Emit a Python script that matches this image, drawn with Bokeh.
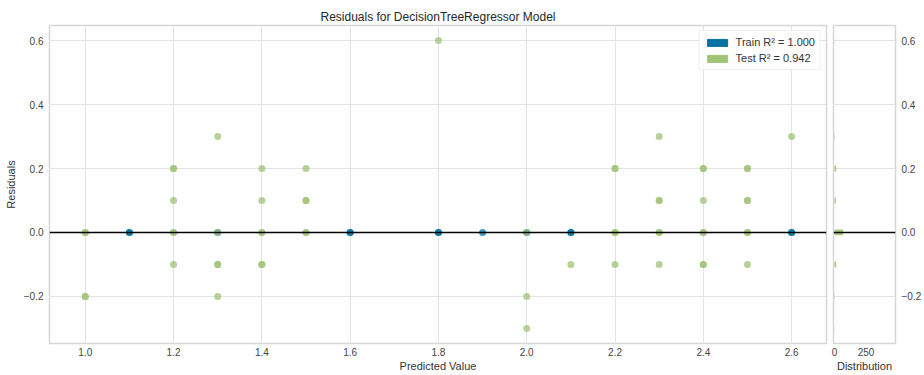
from bokeh.plotting import figure
from bokeh.models import (Range1d, FixedTicker, CustomJSTickFormatter, Span, Legend,
                          LegendItem, ColumnDataSource)
from bokeh.layouts import row
from bokeh.embed import file_html
from bokeh.resources import INLINE

# ---------------- data ----------------
train_pred = [1.1, 1.1, 1.3, 1.6, 1.6, 1.8, 1.8, 1.9, 2.0, 2.1, 2.1, 2.6, 2.6]
train_resid = [0.0] * len(train_pred)

test_pred = [1.0, 1.0, 1.0, 1.0,
             1.2, 1.2, 1.2, 1.2, 1.2, 1.2,
             1.3, 1.3, 1.3, 1.3, 1.3,
             1.4, 1.4, 1.4, 1.4, 1.4, 1.4,
             1.5, 1.5, 1.5, 1.5, 1.5,
             1.8,
             2.0, 2.0, 2.0,
             2.1,
             2.2, 2.2, 2.2, 2.2, 2.2,
             2.3, 2.3, 2.3, 2.3, 2.3, 2.3,
             2.4, 2.4, 2.4, 2.4, 2.4, 2.4, 2.4,
             2.5, 2.5, 2.5, 2.5, 2.5, 2.5, 2.5,
             2.6]
test_resid = [0.0, 0.0, -0.2, -0.2,
              0.2, 0.2, 0.1, 0.0, 0.0, -0.1,
              0.3, 0.0, -0.1, -0.1, -0.2,
              0.2, 0.1, 0.0, 0.0, -0.1, -0.1,
              0.2, 0.1, 0.1, 0.0, 0.0,
              0.6,
              0.0, -0.2, -0.3,
              -0.1,
              0.2, 0.2, 0.0, 0.0, -0.1,
              0.3, 0.1, 0.1, 0.0, 0.0, -0.1,
              0.2, 0.2, 0.1, 0.0, 0.0, -0.1, -0.1,
              0.2, 0.2, 0.1, 0.1, 0.0, 0.0, -0.1,
              0.3]

hist_bins = [-0.3, -0.2, -0.1, 0.0, 0.1, 0.2, 0.3, 0.6]
hist_counts = [1, 3, 14, 68, 11, 14, 3, 1]

x_ticks = [1.0, 1.2, 1.4, 1.6, 1.8, 2.0, 2.2, 2.4, 2.6]
y_ticks = [-0.2, 0.0, 0.2, 0.4, 0.6]
hist_ticks = [0, 250]

train_label = "Train R\u00b2 = 1.000"
test_label = "Test R\u00b2 = 0.942"
title_text = "Residuals for DecisionTreeRegressor Model"

# ---------------- style ----------------
BLUE = "#0272a2"
GREEN = "#9fc377"
FONT = "Liberation Sans"
GRID = "#e3e3e3"
OUTLINE = "#d6d6d6"
TICK_TXT = "#444444"
LABEL_TXT = "#333333"

fmt1 = CustomJSTickFormatter(code="return tick.toFixed(1).replace('-', '\u2212');")


def style_axis(ax, standoff, label_standoff):
    ax.axis_line_color = None
    ax.major_tick_line_color = None
    ax.minor_tick_line_color = None
    ax.major_tick_out = 0
    ax.major_tick_in = 0
    ax.minor_tick_out = 0
    ax.minor_tick_in = 0
    ax.major_label_text_font = FONT
    ax.major_label_text_font_size = "10px"
    ax.major_label_text_color = TICK_TXT
    ax.axis_label_text_font = FONT
    ax.axis_label_text_font_size = "11px"
    ax.axis_label_text_font_style = "normal"
    ax.axis_label_text_color = LABEL_TXT
    ax.major_label_standoff = standoff
    ax.axis_label_standoff = label_standoff


y_range = Range1d(-0.347, 0.647)

p = figure(width=828, height=375, x_range=Range1d(0.919, 2.679), y_range=y_range,
           output_backend="svg", toolbar_location=None,
           min_border_left=49, min_border_right=2, min_border_top=25, min_border_bottom=32)
p.title.text = title_text
p.title.align = "center"
p.title.text_font = FONT
p.title.text_font_size = "12px"
p.title.text_font_style = "normal"
p.title.text_color = "#262626"
p.title.standoff = 3

style_axis(p.xaxis[0], 4, 1)
style_axis(p.yaxis[0], 6, 4)
p.xaxis.formatter = fmt1
p.yaxis.formatter = fmt1
p.xaxis.ticker = FixedTicker(ticks=x_ticks)
p.yaxis.ticker = FixedTicker(ticks=y_ticks)
p.xaxis.axis_label = "Predicted Value"
p.yaxis.axis_label = "Residuals"

p.grid.grid_line_color = GRID
p.grid.grid_line_width = 1
p.outline_line_color = OUTLINE
p.outline_line_width = 1.5

p.scatter(x=train_pred, y=train_resid, size=7, fill_color=BLUE, line_color=None, fill_alpha=0.75)
p.scatter(x=test_pred, y=test_resid, size=7, fill_color=GREEN, line_color=None, fill_alpha=0.75)

p.add_layout(Span(location=0, dimension="width", line_color="black", line_width=1.6))

# legend swatches (NaN geometry: drawn only in the legend)
nan = float("nan")
swatch = ColumnDataSource(dict(l=[nan], r=[nan], t=[nan], b=[nan]))
r_train = p.quad(left="l", right="r", top="t", bottom="b", source=swatch,
                 fill_color=BLUE, line_color=BLUE)
r_test = p.quad(left="l", right="r", top="t", bottom="b", source=swatch,
                fill_color=GREEN, line_color=GREEN)
legend = Legend(items=[LegendItem(label=train_label, renderers=[r_train]),
                       LegendItem(label=test_label, renderers=[r_test])],
                location="top_right", margin=5, padding=5, spacing=4,
                glyph_width=25, glyph_height=9, label_standoff=6,
                label_text_font=FONT, label_text_font_size="11px",
                label_text_color=LABEL_TXT, border_line_color="#e0e0e0",
                border_line_width=1, background_fill_alpha=0.85)
p.add_layout(legend)

# ---------------- histogram ----------------
h = figure(width=96, height=375, x_range=Range1d(-8, 484), y_range=y_range,
           y_axis_location="right", output_backend="svg", toolbar_location=None,
           min_border_left=5, min_border_right=26, min_border_top=25, min_border_bottom=32)
style_axis(h.xaxis[0], 4, 1)
style_axis(h.yaxis[0], 6, 0)
h.xaxis.axis_label = "Distribution"
h.xaxis.ticker = FixedTicker(ticks=hist_ticks)
h.yaxis.ticker = FixedTicker(ticks=y_ticks)
h.yaxis.formatter = CustomJSTickFormatter(code="return tick.toFixed(1).replace('-', '\u2212');")
h.xgrid.grid_line_color = None
h.ygrid.grid_line_color = GRID
h.outline_line_color = OUTLINE
h.outline_line_width = 1.5

h.hbar(y=hist_bins, left=0, right=hist_counts, height=0.018,
       fill_color=GREEN, line_color=None, fill_alpha=0.9)
h.add_layout(Span(location=0, dimension="width", line_color="black", line_width=1.6))

layout = row(p, h)
open("out.html", "w").write(file_html(layout, INLINE))
